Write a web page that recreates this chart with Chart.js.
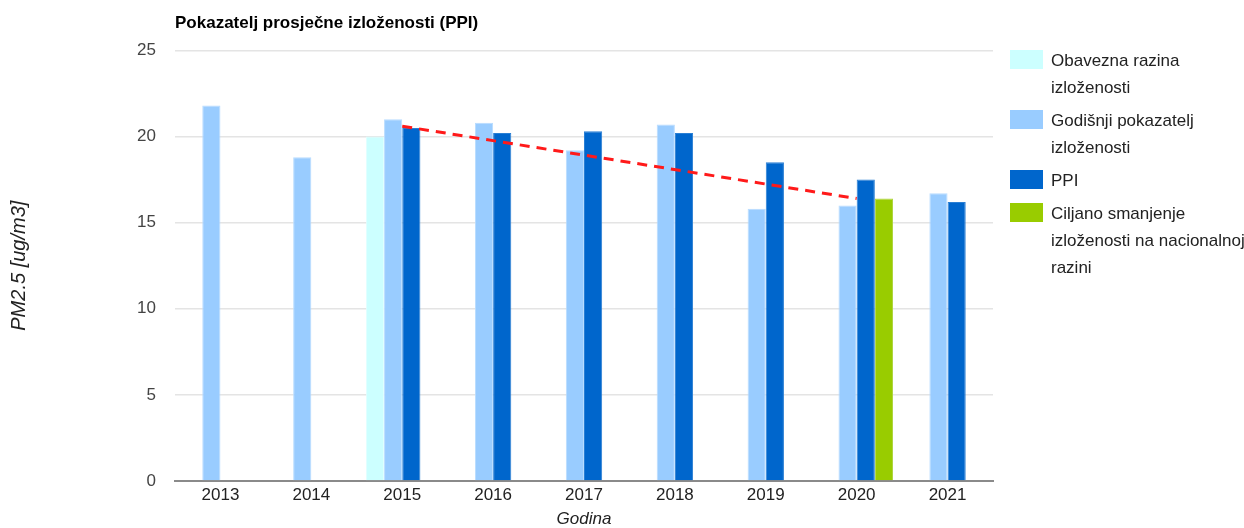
<!DOCTYPE html>
<html>
<head>
<meta charset="utf-8">
<script src="https://cdn.jsdelivr.net/npm/chart.js@4.4.1/dist/chart.umd.min.js"></script>
<style>
  html, body { margin: 0; padding: 0; background: #fff; }
  #wrap { position: relative; width: 1244px; height: 528px; }
  #legend { position: absolute; left: 1010px; top: 47px; color: #222; }
  .item { display: flex; align-items: flex-start; margin-bottom: 6px; }
  .box { width: 33px; height: 19px; margin-top: 3px; margin-right: 8px; flex: none; }
  .txt { line-height: 27px; white-space: nowrap; }
</style>
</head>
<body>
<div id="wrap">
  <canvas id="c" width="1244" height="528"></canvas>
  <div id="legend"></div>
</div>
<script>
// ---- data ----
const categories = ['2013','2014','2015','2016','2017','2018','2019','2020','2021'];
const obaveznaRazina = [null, null, 20.0, null, null, null, null, null, null];
const godisnjiPokazatelj = [21.8, 18.8, 21.0, 20.8, 19.2, 20.7, 15.8, 16.0, 16.7];
const ppi = [null, null, 20.5, 20.2, 20.3, 20.2, 18.5, 17.5, 16.2];
const ciljanoSmanjenje = [null, null, null, null, null, null, null, 16.4, null];
const trend = [null, null, 20.6, null, null, null, null, 16.4, null];
const yTicks = [0, 5, 10, 15, 20, 25];
const legendLines = [
  ['Obavezna razina', 'izloženosti'],
  ['Godišnji pokazatelj', 'izloženosti'],
  ['PPI'],
  ['Ciljano smanjenje', 'izloženosti na nacionalnoj', 'razini']
];
const titleText = 'Pokazatelj prosječne izloženosti (PPI)';
const yTitle = 'PM2.5 [ug/m3]';
const xTitle = 'Godina';

// ---- font selection ----
function hasFont(name) {
  const ctx = document.createElement('canvas').getContext('2d');
  const s = 'abcdefgWMil2013 izloženosti';
  ctx.font = '40px monospace';
  const w1 = ctx.measureText(s).width;
  ctx.font = '40px ' + name + ', monospace';
  return Math.abs(ctx.measureText(s).width - w1) > 0.5;
}
const narrow = hasFont("'Liberation Sans Narrow'");
const FAM = narrow ? "'Liberation Sans Narrow', 'Liberation Sans', Arial, sans-serif"
                   : "'Liberation Sans', Arial, sans-serif";
const FS = narrow ? 20 : 17;

const colors = ['#ccffff', '#99ccff', '#0066cc', '#99cc00'];
const borders = ['#e0ffff', '#b8dcff', '#2a7fd4', '#b0d640'];
const barSets = [obaveznaRazina, godisnjiPokazatelj, ppi, ciljanoSmanjenje];

const datasets = barSets.map((d, i) => ({
  type: 'bar',
  label: legendLines[i].join(' '),
  data: d,
  backgroundColor: colors[i],
  borderColor: borders[i],
  borderWidth: 1,
  categoryPercentage: 0.8,
  barPercentage: 1.0,
  order: 1
}));
datasets.push({
  type: 'line',
  label: 'trend',
  data: trend,
  borderColor: '#ff1a1a',
  borderWidth: 3,
  borderDash: [10, 7],
  pointRadius: 0,
  spanGaps: true,
  fill: false,
  order: 0
});

// ---- legend (HTML) ----
const lg = document.getElementById('legend');
legendLines.forEach((lines, i) => {
  const it = document.createElement('div');
  it.className = 'item';
  const b = document.createElement('div');
  b.className = 'box';
  b.style.background = colors[i];
  const t = document.createElement('div');
  t.className = 'txt';
  t.style.fontFamily = FAM;
  t.style.fontSize = FS + 'px';
  t.innerHTML = lines.join('<br>');
  it.appendChild(b); it.appendChild(t);
  lg.appendChild(it);
});

new Chart(document.getElementById('c'), {
  data: { labels: categories, datasets },
  options: {
    responsive: false,
    animation: false,
    layout: { padding: { left: 0, right: 251, top: 0, bottom: 0 } },
    plugins: {
      legend: { display: false },
      tooltip: { enabled: false },
      title: {
        display: true,
        text: titleText,
        align: 'start',
        fullSize: false,
        color: '#000',
        font: { family: FAM, size: FS, weight: 'bold', lineHeight: 1.2 },
        padding: { top: 13, bottom: 17 }
      }
    },
    scales: {
      x: {
        grid: { display: false, drawTicks: false },
        border: { display: true, color: '#8a8a8a', width: 2 },
        ticks: { color: '#222', font: { family: FAM, size: FS }, padding: 4, maxRotation: 0 },
        title: {
          display: true, text: xTitle, color: '#222',
          font: { family: FAM, size: FS, style: 'italic', lineHeight: 1 },
          padding: { top: 0, bottom: 0 }
        },
        afterFit: (s) => { s.height = 47; }
      },
      y: {
        min: 0, max: 25,
        afterBuildTicks: (s) => { s.ticks = yTicks.map(v => ({ value: v })); },
        grid: { color: '#e4e4e4', lineWidth: 1.5, drawTicks: false },
        border: { display: false },
        ticks: { color: '#444', font: { family: FAM, size: FS }, padding: 19 },
        title: {
          display: true, text: yTitle, color: '#222',
          font: { family: "'Liberation Sans', Arial, sans-serif", size: 20, style: 'italic', lineHeight: 1.2 },
          padding: { top: 7, bottom: 0 }
        },
        afterFit: (s) => { s.width = 175; }
      }
    }
  }
});
</script>
</body>
</html>
